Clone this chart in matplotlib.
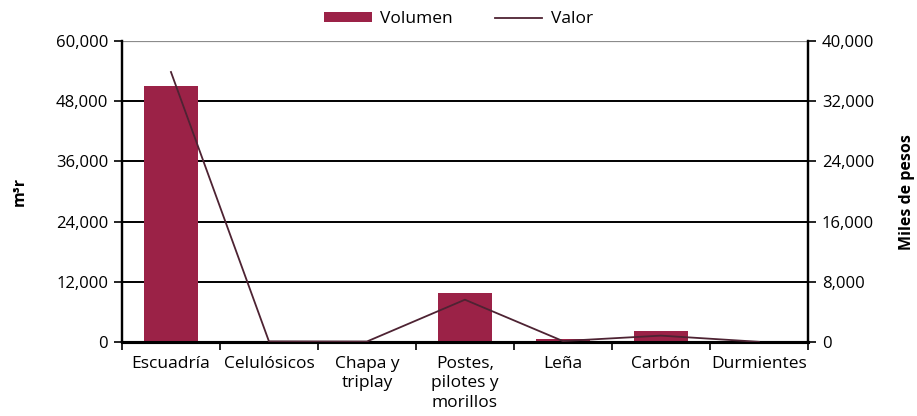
import matplotlib.pyplot as plt
import numpy as np

plt.rcParams['font.family'] = ['Open Sans', 'DejaVu Sans']

# productos forestales
productos = ['Escuadría', 'Celulósicos', 'Chapa y\ntriplay', 'Postes,\npilotes y\nmorillos',
             'Leña', 'Carbón', 'Durmientes']
volumen = [51000, 150, 100, 9800, 650, 2250, 50]      # m³r
valor = [35900, 80, 60, 5620, 120, 840, 20]           # miles de pesos

granate = '#9b2247'
linea = '#4e2333'

fig = plt.figure(figsize=(9.17, 4.16), dpi=100)
ax = fig.add_axes([0.133, 0.178, 0.748, 0.723])
ax2 = ax.twinx()

x = np.arange(len(productos))
ax.bar(x, volumen, width=0.55, color=granate, label='Volumen', zorder=3)
ax2.plot(x, valor, color=linea, lw=1.3, label='Valor', zorder=4)

ax.set_xlim(-0.5, len(productos) - 0.5)
ax.set_ylim(0, 60000)
ax2.set_ylim(0, 40000)
ax.set_yticks(np.arange(0, 60001, 12000))
ax2.set_yticks(np.arange(0, 40001, 8000))
ax.yaxis.set_major_formatter(plt.FuncFormatter(lambda v, p: f'{int(v):,}'))
ax2.yaxis.set_major_formatter(plt.FuncFormatter(lambda v, p: f'{int(v):,}'))

# rejilla horizontal
for v in np.arange(12000, 60000, 12000):
    ax.axhline(v, color='black', lw=1.4, zorder=1)
ax.axhline(60000, color='#8c8c8c', lw=1.6, zorder=1)

# etiquetas del eje x centradas, marcas en los bordes de cada categoría
ax.set_xticks(np.arange(-0.5, len(productos)), minor=False)
ax.set_xticklabels([])
ax.set_xticks(x, minor=True)
ax.set_xticklabels(productos, minor=True, fontsize=12.5, linespacing=1.3)
ax.tick_params(axis='x', which='minor', length=0, pad=10)
ax.tick_params(axis='x', which='major', length=6, width=1.2, direction='out')
ax.tick_params(axis='y', length=6, width=1.2, labelsize=12, pad=4)
ax2.tick_params(axis='y', length=6, width=1.2, labelsize=12, pad=4)

for a in (ax, ax2):
    a.spines['top'].set_visible(False)
    a.spines['left'].set_linewidth(1.6)
    a.spines['right'].set_linewidth(1.6)
    a.spines['bottom'].set_linewidth(2.2)

ax.set_ylabel('m³r', fontsize=11.5, fontweight='bold', labelpad=20)
ax2.set_ylabel('Miles de pesos', fontsize=11.5, fontweight='bold', rotation=90, labelpad=18)

h1, l1 = ax.get_legend_handles_labels()
h2, l2 = ax2.get_legend_handles_labels()
fig.legend(h1 + h2, l1 + l2, loc='upper center', bbox_to_anchor=(0.5, 1.01), ncol=2,
           frameon=False, fontsize=12.5, handlelength=2.75, columnspacing=2.4,
           handleheight=0.5, handletextpad=0.5)

fig.savefig('out.png', dpi=100)
